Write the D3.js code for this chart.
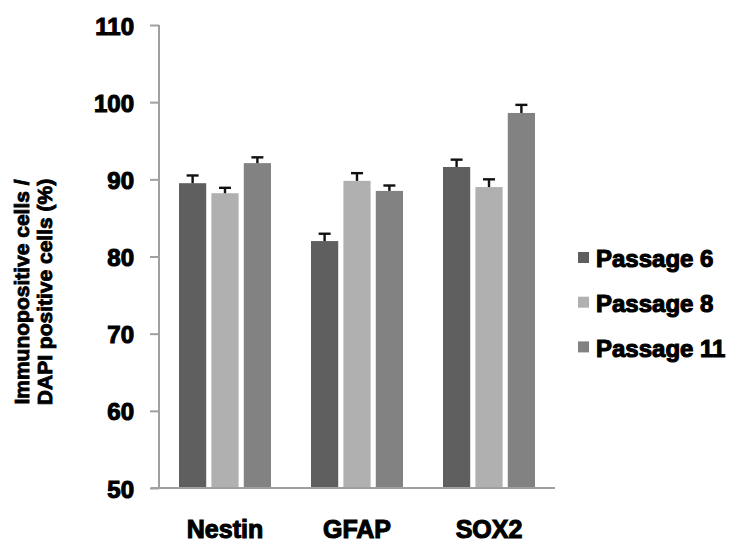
<!DOCTYPE html>
<html>
<head>
<meta charset="utf-8">
<script src="https://cdn.jsdelivr.net/npm/d3@7"></script>
<style>
  html, body { margin: 0; padding: 0; background: #fff; }
  svg { display: block; }
  text { font-family: "Liberation Sans", Arial, sans-serif; font-weight: bold; fill: #000; }
</style>
</head>
<body>
<svg id="chart" width="738" height="542"></svg>
<script>
// Markers and passages
const categories = ["Nestin", "GFAP", "SOX2"];
const seriesNames = ["Passage 6", "Passage 8", "Passage 11"];
const seriesColors = ["#5f5f5f", "#b0b0b0", "#828282"];

// Mean percentage of immunopositive cells per marker
const passage6 = [89.5, 82.0, 91.6];
const passage8 = [88.2, 89.8, 89.0];
const passage11 = [92.1, 88.5, 98.6];

// Upper error bar lengths
const passage6Err = [1.0, 0.95, 0.95];
const passage8Err = [0.7, 1.0, 1.0];
const passage11Err = [0.75, 0.7, 1.05];

const yTicks = [50, 60, 70, 80, 90, 100, 110];

const seriesValues = [passage6, passage8, passage11];
const seriesErrors = [passage6Err, passage8Err, passage11Err];

const rows = [];
categories.forEach((c, ci) => {
  seriesNames.forEach((s, si) => {
    rows.push({ category: c, series: s, si, value: seriesValues[si][ci], err: seriesErrors[si][ci] });
  });
});

const svg = d3.select("#chart");

const plot = { left: 159, right: 555, top: 25, bottom: 488 };

const y = d3.scaleLinear().domain([50, 110]).range([plot.bottom, plot.top]);
const x0 = d3.scaleBand().domain(categories).range([plot.left, plot.right]).padding(0);
const x1 = d3.scaleBand().domain(seriesNames).range([20, x0.bandwidth() - 20]).paddingInner(0.16);

// Bars
svg.append("g")
  .selectAll("rect")
  .data(rows)
  .join("rect")
  .attr("x", d => x0(d.category) + x1(d.series))
  .attr("y", d => y(d.value))
  .attr("width", x1.bandwidth())
  .attr("height", d => y(50) - y(d.value))
  .attr("fill", d => seriesColors[d.si]);

// Error bars (upper only)
const eb = svg.append("g").attr("stroke", "#111").attr("stroke-width", 2.4);
rows.forEach(d => {
  const cx = x0(d.category) + x1(d.series) + x1.bandwidth() / 2;
  eb.append("line").attr("x1", cx).attr("x2", cx).attr("y1", y(d.value)).attr("y2", y(d.value + d.err));
  eb.append("line").attr("x1", cx - 6).attr("x2", cx + 6).attr("y1", y(d.value + d.err)).attr("y2", y(d.value + d.err));
});

// Y axis
const yAxis = d3.axisLeft(y).tickValues(yTicks).tickSize(9).tickPadding(16).tickFormat(d3.format("d"));
const gy = svg.append("g").attr("transform", `translate(${plot.left},0)`).call(yAxis);
gy.select(".domain").attr("stroke", "#a0a0a0").attr("stroke-width", 2).attr("d", `M0,${plot.top}V${plot.bottom}`);
gy.selectAll(".tick line").attr("stroke", "#a0a0a0").attr("stroke-width", 2);
gy.selectAll(".tick text").attr("font-size", 24).attr("font-family", null).attr("dy", "0.38em")
  .style("stroke", "#000").style("stroke-width", 1.1);

// X axis
const xAxis = d3.axisBottom(x0).tickSize(0).tickPadding(32);
const gx = svg.append("g").attr("transform", `translate(0,${plot.bottom})`).call(xAxis);
gx.select(".domain").attr("stroke", "#a0a0a0").attr("stroke-width", 2).attr("d", `M${plot.left - 8},0H${plot.right}`);
gx.selectAll(".tick text").attr("font-size", 25).attr("font-family", null)
  .style("stroke", "#000").style("stroke-width", 1.1);

// Y axis title
const title = svg.append("text")
  .attr("transform", "translate(22,292) rotate(-90)")
  .attr("text-anchor", "middle")
  .attr("font-size", 21)
  .style("stroke", "#000").style("stroke-width", 0.9);
title.append("tspan").attr("x", 0).attr("dy", "0.35em").text("Immunopositive cells /");
title.append("tspan").attr("x", 0).attr("dy", 23).text("DAPI positive cells (%)");

// Legend
const legend = svg.append("g").selectAll("g")
  .data(seriesNames)
  .join("g")
  .attr("transform", (d, i) => `translate(578,${258 + i * 44.7})`);
legend.append("rect").attr("x", 0).attr("y", -6).attr("width", 11).attr("height", 11)
  .attr("fill", (d, i) => seriesColors[i]);
legend.append("text").attr("x", 18).attr("dy", "0.38em").attr("font-size", 24)
  .style("stroke", "#000").style("stroke-width", 1.1)
  .text(d => d);
</script>
</body>
</html>
